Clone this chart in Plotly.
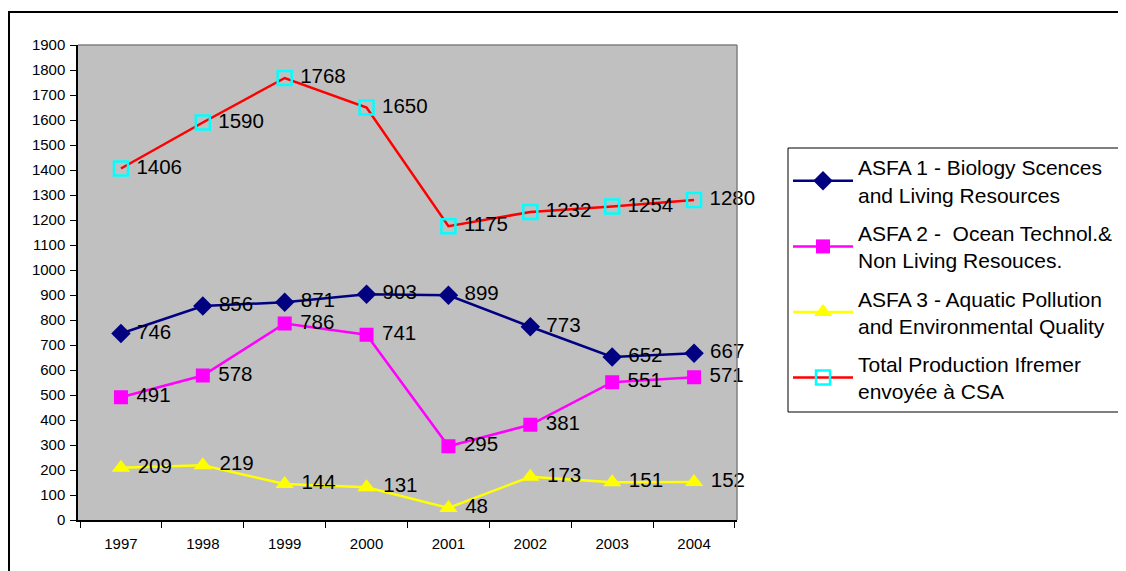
import plotly.graph_objects as go

years = ["1997", "1998", "1999", "2000", "2001", "2002", "2003", "2004"]
asfa1 = [746, 856, 871, 903, 899, 773, 652, 667]
asfa2 = [491, 578, 786, 741, 295, 381, 551, 571]
asfa3 = [209, 219, 144, 131, 48, 173, 151, 152]
total = [1406, 1590, 1768, 1650, 1175, 1232, 1254, 1280]

names = [
    "ASFA 1 - Biology Scences<br>and Living Resources",
    "ASFA 2 -  Ocean Technol.&<br>Non Living Resouces.",
    "ASFA 3 - Aquatic Pollution<br>and Environmental Quality",
    "Total Production Ifremer<br>envoyée à CSA",
]

W, H = 1126, 571
OFF = 8  # page offset of the rendered figure
L, R, T, B = 78 - OFF, 737 - OFF, 45 - OFF, 520 - OFF

def px(x):
    return (x - OFF - L) / (R - L)

def py(y):
    return (B - (y - OFF)) / (B - T)

lab_font = dict(family="Arial, Liberation Sans, sans-serif", size=20.5, color="black")

fig = go.Figure()
series = [
    (asfa1, names[0], "#000080", dict(symbol="diamond", size=15, color="#000080")),
    (asfa2, names[1], "#FF00FF", dict(symbol="square", size=14, color="#FF00FF")),
    (asfa3, names[2], "#FFFF00", dict(symbol="triangle-up", size=16, color="#FFFF00")),
    (total, names[3], "#FF0000", dict(symbol="square-open", size=14, color="#00FFFF", line=dict(width=2.5, color="#00FFFF"))),
]
for i, (vals, nm, col, mk) in enumerate(series):
    fig.add_trace(go.Scatter(
        x=years, y=vals, name=nm, mode="lines+markers+text",
        line=dict(color=col, width=2.5), marker=mk,
        text=["\u00a0" + str(v) for v in vals], textposition="middle right",
        textfont=lab_font, cliponaxis=False, legendgroup=str(i),
    ))

shapes = [
    dict(type="line", xref="paper", yref="paper", x0=0, x1=1, y0=1, y1=1, line=dict(color="#808080", width=1.5)),
    dict(type="line", xref="paper", yref="paper", x0=1, x1=1, y0=0, y1=1, line=dict(color="#808080", width=1.5)),
    dict(type="rect", xref="paper", yref="paper", x0=px(9), x1=px(1145), y0=py(12), y1=py(590),
         line=dict(color="black", width=2), layer="below"),
    # legend frame (runs past the right edge, as in the original)
    dict(type="rect", xref="paper", yref="paper", x0=px(788), x1=px(1150), y0=py(148), y1=py(412),
         line=dict(color="black", width=1), fillcolor="white", layer="below"),
]

tick_font = dict(family="Arial, Liberation Sans, sans-serif", size=15, color="black")
fig.update_layout(
    width=W, height=H,
    margin=dict(l=L, r=W - R, t=T, b=H - B, autoexpand=False),
    paper_bgcolor="white", plot_bgcolor="#C0C0C0",
    showlegend=True,
    legend=dict(
        x=px(788), y=py(147), xanchor="left", yanchor="top",
        borderwidth=0, bgcolor="rgba(0,0,0,0)",
        font=dict(family="Arial, Liberation Sans, sans-serif", size=21, color="black"),
        traceorder="grouped", tracegroupgap=8, itemwidth=60,
    ),
    xaxis=dict(
        type="category", showgrid=False, showline=True, linecolor="black", linewidth=1.5,
        ticks="outside", ticklen=6, tickcolor="black", tickson="boundaries",
        tickfont=tick_font, zeroline=False, ticklabelstandoff=9,
    ),
    yaxis=dict(
        range=[0, 1900], dtick=100, showgrid=False, showline=True, linecolor="black", linewidth=1.5,
        ticks="outside", ticklen=6, tickcolor="black", tickfont=tick_font, zeroline=False,
        ticklabelstandoff=2,
    ),
    shapes=shapes,
)

fig.write_html("out.html")
